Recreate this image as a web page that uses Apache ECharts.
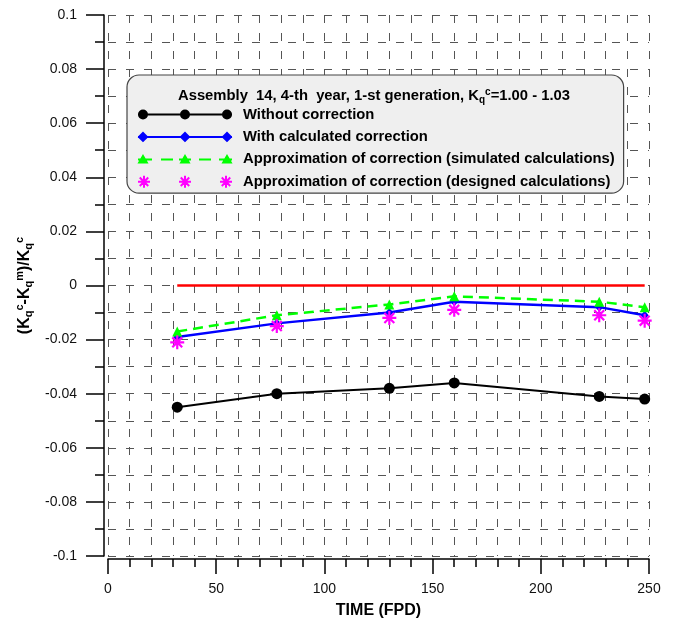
<!DOCTYPE html>
<html>
<head>
<meta charset="utf-8">
<script src="https://cdn.jsdelivr.net/npm/echarts@6/dist/echarts.min.js"></script>
<style>
  html, body { margin: 0; padding: 0; background: #fff; }
  #chart { width: 675px; height: 624px; }
</style>
</head>
<body>
<div id="chart"></div>
<script>
const FONT = '"Liberation Sans", Arial, Helvetica, sans-serif'

// values
const timeFpd = [32, 78, 130, 160, 227, 248]
const withoutCorrection = [-0.045, -0.040, -0.038, -0.036, -0.041, -0.042]
const withCalcCorrection = [-0.019, -0.014, -0.010, -0.006, -0.008, -0.011]
const approxSimulated = [-0.017, -0.011, -0.007, -0.004, -0.006, -0.008]
const approxDesigned = [-0.021, -0.015, -0.012, -0.009, -0.011, -0.013]
const zeroLineX = [32, 248]
const zeroLineY = [0, 0]

const seriesNames = [
  'Without correction',
  'With calculated correction',
  'Approximation of correction (simulated calculations)',
  'Approximation of correction (designed calculations)'
]
const legendTitle = 'Assembly  14, 4-th  year, 1-st generation, K{sub|q}{sup|c}=1.00 - 1.03'
const yAxisTitle = '(K{sub|q}{sup|c}-K{sub|q}{sup|m})/K{sub|q}{sup|c}'
const xAxisTitle = 'TIME (FPD)'

const BLACK = '#000000'
const BLUE = '#0000ff'
const GREEN = '#00ff00'
const MAGENTA = '#ff00ff'
const RED = '#ff0000'
const GRID_COLOR = '#555555'

const ASTERISK = 'path://M0 7L14 7M7 0L7 14M2.05 2.05L11.95 11.95M11.95 2.05L2.05 11.95'

// legend swatches: a line with three markers, drawn as one path each
const ICON_W = 94
const ICON_MARKS = [5, 47, 89]
const STAR_MARKS = [6, 47, 88]
const circleAt = cx => `M${cx - 4} 6A4 4 0 1 1 ${cx + 4} 6A4 4 0 1 1 ${cx - 4} 6Z`
const diamondAt = cx => `M${cx - 4} 6L${cx} 2L${cx + 4} 6L${cx} 10Z`
const triangleAt = cx => `M${cx} 2.5L${cx + 3.8} 9L${cx - 3.8} 9Z`
const starAt = cx => {
  const d = 4.24
  return `M${cx - 6} 6L${cx + 6} 6M${cx} 0L${cx} 12M${cx - d} ${6 - d}L${cx + d} ${6 + d}M${cx + d} ${6 - d}L${cx - d} ${6 + d}`
}
const solidLine = `M0 6L${ICON_W} 6`
const dashedLine = 'M0 6L14 6M23 6L35 6M41 6L53 6M61 6L73 6M81 6L94 6'

function pairs(xs, ys) {
  return xs.map((x, i) => [x, ys[i]])
}

function subSupRich(size) {
  return {
    sub: { fontSize: size, fontWeight: 'bold', fontFamily: FONT, color: '#000', verticalAlign: 'bottom', lineHeight: size },
    sup: { fontSize: size, fontWeight: 'bold', fontFamily: FONT, color: '#000', verticalAlign: 'top', lineHeight: size }
  }
}

const gridLine = { color: GRID_COLOR, width: 1, type: [8, 10] }

function buildOption() {
  return {
    animation: false,
    backgroundColor: '#ffffff',
    textStyle: { fontFamily: FONT },
    grid: { left: 108, right: 26, top: 15, bottom: 66 },
    title: {
      text: legendTitle,
      left: 369,
      top: 82,
      textAlign: 'center',
      textStyle: {
        fontSize: 14.8,
        fontWeight: 'bold',
        fontFamily: FONT,
        color: '#000',
        lineHeight: 18,
        rich: subSupRich(10)
      }
    },
    legend: {
      orient: 'vertical',
      left: 127,
      top: 75,
      padding: [32, 9, 4, 10],
      backgroundColor: '#efefef',
      borderColor: '#444',
      borderWidth: 1.2,
      borderRadius: 12,
      itemWidth: ICON_W,
      itemHeight: 12,
      itemGap: 7.4,
      symbolKeepAspect: true,
      selectedMode: false,
      textStyle: {
        fontSize: 14.8,
        fontWeight: 'bold',
        fontFamily: FONT,
        color: '#000',
        lineHeight: 14,
        padding: [0, 0, 0, 6]
      },
      data: [
        {
          name: seriesNames[0],
          icon: 'path://' + solidLine + ICON_MARKS.map(circleAt).join(''),
          itemStyle: { color: BLACK, borderColor: BLACK, borderWidth: 2 }
        },
        {
          name: seriesNames[1],
          icon: 'path://' + solidLine + ICON_MARKS.map(diamondAt).join(''),
          itemStyle: { color: BLUE, borderColor: BLUE, borderWidth: 2 }
        },
        {
          name: seriesNames[2],
          icon: 'path://' + dashedLine + ICON_MARKS.map(triangleAt).join(''),
          itemStyle: { color: GREEN, borderColor: GREEN, borderWidth: 2 }
        },
        {
          name: seriesNames[3],
          icon: 'path://' + STAR_MARKS.map(starAt).join(''),
          itemStyle: { color: 'rgba(0,0,0,0)', borderColor: MAGENTA, borderWidth: 2 }
        }
      ]
    },
    xAxis: {
      type: 'value',
      min: 0,
      max: 250,
      interval: 50,
      offset: 3,
      name: xAxisTitle,
      nameLocation: 'middle',
      nameGap: 44,
      nameTextStyle: { fontSize: 16, fontWeight: 'bold', color: '#000', fontFamily: FONT },
      axisLine: { onZero: false, lineStyle: { color: '#000', width: 1.5 } },
      axisTick: { length: 15, lineStyle: { color: '#000', width: 1.5 } },
      minorTick: { show: true, splitNumber: 5, length: 8, lineStyle: { color: '#000', width: 1.5 } },
      axisLabel: { margin: 23, fontSize: 14, color: '#111', fontFamily: FONT },
      splitLine: { show: true, lineStyle: gridLine },
      minorSplitLine: { show: true, lineStyle: gridLine }
    },
    yAxis: {
      type: 'value',
      min: -0.1,
      max: 0.1,
      interval: 0.02,
      offset: 4,
      name: yAxisTitle,
      nameLocation: 'middle',
      nameRotate: 90,
      nameGap: 66,
      nameTextStyle: {
        fontSize: 16,
        fontWeight: 'bold',
        color: '#000',
        fontFamily: FONT,
        lineHeight: 20,
        rich: subSupRich(11)
      },
      axisLine: { onZero: false, lineStyle: { color: '#000', width: 1.5 } },
      axisTick: { length: 18, lineStyle: { color: '#000', width: 1.5 } },
      minorTick: { show: true, splitNumber: 2, length: 9, lineStyle: { color: '#000', width: 1.5 } },
      axisLabel: { margin: 27, fontSize: 14, color: '#111', fontFamily: FONT },
      splitLine: { show: true, lineStyle: gridLine },
      minorSplitLine: { show: true, lineStyle: gridLine }
    },
    series: [
      {
        name: 'zero',
        type: 'line',
        data: pairs(zeroLineX, zeroLineY),
        showSymbol: false,
        lineStyle: { color: RED, width: 2.5 },
        itemStyle: { color: RED },
        silent: true
      },
      {
        name: seriesNames[0],
        type: 'line',
        data: pairs(timeFpd, withoutCorrection),
        symbol: 'circle',
        symbolSize: 11,
        showAllSymbol: true,
        lineStyle: { color: BLACK, width: 2 },
        itemStyle: { color: BLACK }
      },
      {
        name: seriesNames[1],
        type: 'line',
        data: pairs(timeFpd, withCalcCorrection),
        symbol: 'diamond',
        symbolSize: [8, 9],
        showAllSymbol: true,
        lineStyle: { color: BLUE, width: 2.5 },
        itemStyle: { color: BLUE }
      },
      {
        name: seriesNames[2],
        type: 'line',
        data: pairs(timeFpd, approxSimulated),
        symbol: 'triangle',
        symbolSize: 10,
        showAllSymbol: true,
        lineStyle: { color: GREEN, width: 2.5, type: [10, 6] },
        itemStyle: { color: GREEN }
      },
      {
        name: seriesNames[3],
        type: 'line',
        data: pairs(timeFpd, approxDesigned),
        symbol: ASTERISK,
        symbolSize: 14,
        showAllSymbol: true,
        lineStyle: { width: 0, opacity: 0 },
        itemStyle: { color: MAGENTA, borderColor: MAGENTA, borderWidth: 2.2 }
      }
    ]
  }
}

const chart = echarts.init(document.getElementById('chart'), null, { renderer: 'canvas' })
chart.setOption(buildOption())
</script>
</body>
</html>
